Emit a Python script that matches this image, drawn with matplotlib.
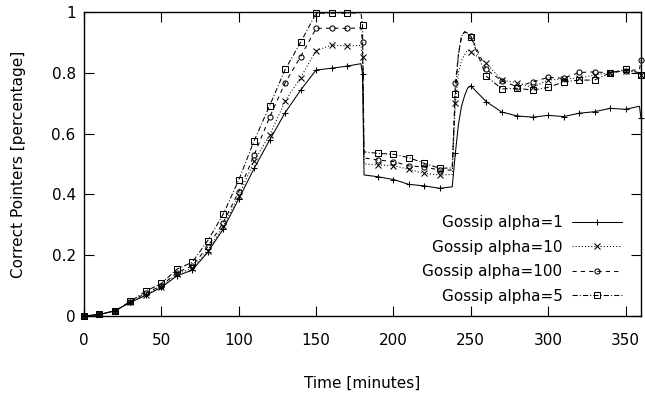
import matplotlib
matplotlib.use("Agg")
import matplotlib.pyplot as plt
import numpy as np

plt.rcParams['font.family'] = ['DejaVu Sans']

# time grid (minutes)
t = [0, 10, 20, 30, 40, 50, 60, 70, 80, 90, 100, 110, 120, 130, 140, 150, 160, 170,
     179, 180, 181, 190, 200, 210, 220, 230, 238, 240, 242, 244, 246, 248, 250,
     260, 270, 280, 290, 300, 310, 320, 330, 340, 350, 359, 360]

alpha1 = [0, 0.005, 0.017, 0.045, 0.068, 0.094, 0.132, 0.151, 0.21, 0.286, 0.385, 0.486,
          0.579, 0.669, 0.743, 0.809, 0.815, 0.822,
          0.83, 0.796, 0.464, 0.458, 0.449, 0.433, 0.428, 0.42, 0.425, 0.535, 0.63, 0.69,
          0.725, 0.75, 0.757,
          0.705, 0.671, 0.658, 0.654, 0.66, 0.656, 0.667, 0.672, 0.683, 0.68, 0.69, 0.65]

alpha10 = [0, 0.005, 0.017, 0.045, 0.07, 0.096, 0.138, 0.157, 0.215, 0.295, 0.395, 0.51,
           0.595, 0.707, 0.784, 0.873, 0.891, 0.888,
           0.89, 0.851, 0.5, 0.497, 0.495, 0.482, 0.469, 0.464, 0.465, 0.70, 0.80, 0.84,
           0.86, 0.875, 0.87,
           0.831, 0.776, 0.767, 0.752, 0.776, 0.78, 0.782, 0.793, 0.8, 0.807, 0.8, 0.793]

alpha100 = [0, 0.005, 0.017, 0.047, 0.075, 0.1, 0.143, 0.165, 0.228, 0.307, 0.409, 0.53,
            0.654, 0.767, 0.853, 0.946, 0.947, 0.946,
            0.948, 0.9, 0.52, 0.513, 0.508, 0.494, 0.49, 0.48, 0.48, 0.765, 0.86, 0.92,
            0.935, 0.93, 0.92,
            0.811, 0.774, 0.754, 0.77, 0.785, 0.782, 0.801, 0.803, 0.8, 0.807, 0.81, 0.842]

alpha5 = [0, 0.005, 0.017, 0.048, 0.082, 0.107, 0.154, 0.177, 0.248, 0.335, 0.447, 0.577,
          0.692, 0.811, 0.9, 0.996, 0.996, 0.996,
          0.997, 0.957, 0.54, 0.535, 0.532, 0.521, 0.502, 0.486, 0.487, 0.729, 0.86, 0.92,
          0.935, 0.93, 0.919,
          0.789, 0.747, 0.749, 0.743, 0.752, 0.77, 0.776, 0.776, 0.8, 0.811, 0.8, 0.793]

labels = ["Gossip alpha=1", "Gossip alpha=10", "Gossip alpha=100", "Gossip alpha=5"]
xticks = [0, 50, 100, 150, 200, 250, 300, 350]
yticks = [0, 0.2, 0.4, 0.6, 0.8, 1.0]
yticklabels = ["0", "0.2", "0.4", "0.6", "0.8", "1"]

fig = plt.figure(figsize=(6.45, 3.96), dpi=100)
ax = fig.add_axes([84/645, 80/396, 557/645, 304/396])

mark_idx = [i for i, v in enumerate(t) if v % 10 == 0]

styles = [
    dict(ls='-', marker='+', ms=5),
    dict(ls=(0, (1, 2)), marker='x', ms=4.3),
    dict(ls=(0, (4, 4)), marker='o', ms=3.7),
    dict(ls=(0, (5, 2, 1, 2)), marker='s', ms=4.3),
]
series = [alpha1, alpha10, alpha100, alpha5]
for ys, st, lab in zip(series, styles, labels):
    ax.plot(t, ys, color='black', lw=0.75, linestyle=st['ls'], marker=st['marker'],
            ms=st['ms'], mfc='none', mec='black', mew=0.75, markevery=mark_idx,
            label=lab, clip_on=False)

ax.set_xlim(0, 360)
ax.set_ylim(0, 1)
ax.set_xticks(xticks)
ax.set_yticks(yticks)
ax.set_yticklabels(yticklabels)
ax.tick_params(direction='in', length=7, width=0.8, top=True, right=True,
               labelsize=11)
ax.tick_params(axis='x', pad=12)
ax.tick_params(axis='y', pad=6)
for s in ax.spines.values():
    s.set_linewidth(1.0)

ax.set_xlabel("Time [minutes]", fontsize=11, labelpad=20)
ax.set_ylabel("Correct Pointers [percentage]", fontsize=11, labelpad=18)

leg = ax.legend(loc='lower right', bbox_to_anchor=(0.966, 0.04), frameon=False,
                markerfirst=False, fontsize=11, handlelength=3.3, handletextpad=0.6,
                labelspacing=0.63, borderpad=0, borderaxespad=0)

fig.savefig("out.png", dpi=100)
